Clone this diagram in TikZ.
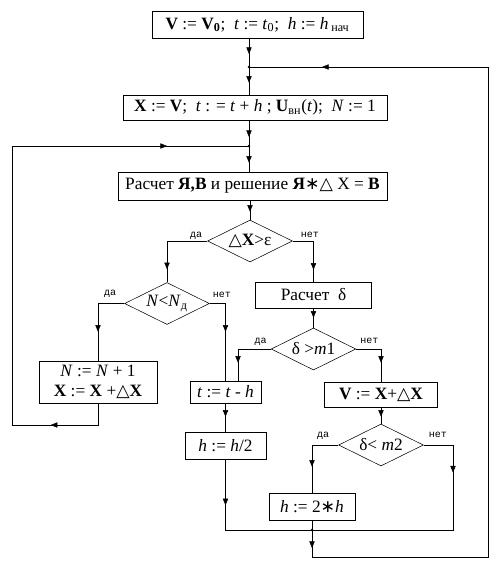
\documentclass[tikz,border=0pt]{standalone}
\usepackage{fontspec}
\setmainfont{Liberation Serif}
\newfontfamily\monof{Liberation Mono}
\newfontfamily\symf{DejaVu Sans}
\usetikzlibrary{arrows.meta,shapes.geometric,decorations.markings}
\newcommand{\tri}{{\symf △}}
\newcommand{\mulsym}{{\symf ∗}}

\begin{document}
\begin{tikzpicture}[x=0.75pt,y=-0.75pt,
  every node/.style={font=\fontsize{13}{15}\selectfont},
  box/.style={draw,inner sep=0pt,align=center},
  cond/.style={draw,diamond,aspect=2,inner sep=0pt,minimum width=63.5pt,minimum height=31.5pt},
  lbl/.style={font=\monof\fontsize{7.5}{8}\selectfont,inner sep=0pt},
  arr/.style={postaction={decorate,decoration={markings,mark=at position #1 with {\arrow{Triangle[width=4pt,length=5pt]}}}}}]
\useasboundingbox (0,0) rectangle (501,569);
\node[box,minimum width=158.25pt,minimum height=20.25pt] (init) at (257.5,24.5)
 {\textbf{V} := \textbf{V}\textsubscript{\textbf{0}}; \ \textit{t} := \textit{t}\textsubscript{0}; \ \textit{h} := \textit{h}\,\textsubscript{нач}};
\coordinate (j1) at (249,67);
\node[box,minimum width=198pt,minimum height=18.75pt] (step) at (255,107.5)
 {\textbf{X} := \textbf{V}; \ \textit{t} : = \textit{t} + \textit{h} ; \textbf{U}\textsubscript{вн}(\textit{t}); \ \textit{N} := 1};
\coordinate (j2) at (249,146);
\node[box,minimum width=201.75pt,minimum height=21pt] (calc) at (252.5,186)
 {Расчет \textbf{Я,В} и решение \textbf{Я}\mulsym\tri\ X = \textbf{B}};
\node[cond] (dX) at (250,241) {\tri\textbf{X}>ε};
\node[cond] (dN) at (167,303.5) {\textit{N}<\textit{N}\textsubscript{д}};
\node[box,minimum width=88.5pt,minimum height=31.5pt] (newN) at (98,382)
 {\textit{N} := \textit{N} + 1\\ \textbf{X} := \textbf{X} +\tri\textbf{X}};
\node[box,minimum width=87pt,minimum height=19.5pt] (cdelta) at (313.5,295) {Расчет \ δ};
\node[cond] (dm1) at (313.5,349) {δ >\textit{m}1};
\node[box,minimum width=53.25pt,minimum height=16.5pt] (back) at (225.5,392) {\textit{t} := \textit{t} - \textit{h}};
\node[box,minimum width=84.75pt,minimum height=18.75pt] (vnew) at (381,394.5) {\textbf{V} := \textbf{X}+\tri\textbf{X}};
\node[cond] (dm2) at (381,445) {δ< \textit{m}2};
\node[box,minimum width=60.75pt,minimum height=20.25pt] (half) at (225.5,445.5) {\textit{h} := \textit{h}/2};
\node[box,minimum width=64.5pt,minimum height=20.25pt] (double) at (312,506.5) {\textit{h} := 2\mulsym\textit{h}};
\coordinate (j3) at (312,530);
\coordinate (jr) at (453,530);
\coordinate (rb) at (488,557);
\coordinate (lb) at (12,425);
% yes / no labels
\node[lbl,anchor=base east] (dXy) at ([shift={(-5,-4)}]dX.west) {да};
\node[lbl,anchor=base west] (dXn) at ([shift={(8,-4)}]dX.east) {нет};
\node[lbl,anchor=base east] (dNy) at ([shift={(-8,-8.5)}]dN.west) {да};
\node[lbl,anchor=base west] (dNn) at ([shift={(3,-6.5)}]dN.east) {нет};
\node[lbl,anchor=base east] (dm1y) at ([shift={(-4,-6)}]dm1.west) {да};
\node[lbl,anchor=base west] (dm1n) at ([shift={(4,-6)}]dm1.east) {нет};
\node[lbl,anchor=base east] (dm2y) at ([shift={(-9,-8)}]dm2.west) {да};
\node[lbl,anchor=base west] (dm2n) at ([shift={(5,-8)}]dm2.east) {нет};
% connectors
\draw[arr=-9.75pt] (init.south -| j1) -- (j1);
\draw[arr=-9pt] (j1) -- (step.north -| j1);
\draw[arr=-6.75pt] (step.south -| j1) -- (j2);
\draw[arr=-6.75pt] (j2) -- (calc.north -| j2);
\draw[arr=-6pt] (calc.south -| dX.north) -- (dX.north);
\draw[arr=-9.75pt] (dX.west) -| (dN.north);
\draw[arr=-9pt] (dX.east) -| (cdelta.north);
\draw[arr=-7.5pt] (cdelta.south) -- (dm1.north);
\draw[arr=-21.75pt] (dN.west) -| (newN.north);
\draw[arr=-36.75pt] (dN.east) -| (back.north);
\draw[arr=-13.5pt] (dm1.west) -| ([xshift=9.4pt]back.north);
\draw[arr=-14.25pt] (dm1.east) -| (vnew.north);
\draw[arr=-5.25pt] (vnew.south) -- (dm2.north);
\draw[arr=-11.25pt] (back.south) -- (half.north);
\draw[arr=-19.5pt] (dm2.west) -| (double.north);
\draw[arr=42.75pt] (dm2.east) -| (jr) -- (j3);
\draw[arr=34.5pt] (half.south) |- (j3);
\draw (double.south) -- (j3);
\draw[arr=13.5pt,arr=-54.75pt] (j3) |- (rb) |- (j1);
\draw[arr=51.75pt,arr=-61.5pt] (newN.south) |- (lb) |- (j2);
\fill (j1) circle (1.1pt) (j2) circle (1.1pt) (j3) circle (1.1pt);
\end{tikzpicture}
\end{document}
